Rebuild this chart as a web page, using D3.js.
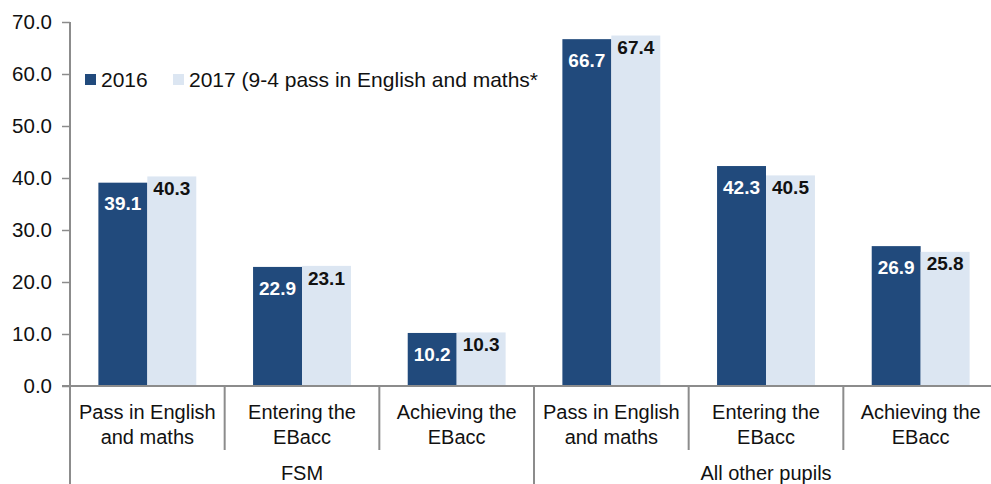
<!DOCTYPE html>
<html><head><meta charset="utf-8">
<script src="https://cdn.jsdelivr.net/npm/d3@7"></script>
<style>
html,body{margin:0;padding:0;background:#fff;}
svg{display:block;font-family:"Liberation Sans",Arial,sans-serif;}
</style></head>
<body><svg id="c" width="991" height="484"></svg>
<script>
const groups = ["FSM", "All other pupils"];
const categories = [
  ["Pass in English", "and maths"],
  ["Entering the", "EBacc"],
  ["Achieving the", "EBacc"]
];
const seriesNames = ["2016", "2017 (9-4 pass in English and maths*"];
const values2016 = [39.1, 22.9, 10.2, 66.7, 42.3, 26.9];
const values2017 = [40.3, 23.1, 10.3, 67.4, 40.5, 25.8];
const yTicks = [0, 10, 20, 30, 40, 50, 60, 70];
const colors = ["#214a7c", "#dce6f2"];

const svg = d3.select("#c");
const axisColor = "#8c8c8c";
const x0 = 70, x1 = 998, yTop = 22, yBase = 386;

const slots = [];
groups.forEach((g, gi) => categories.forEach((c, ci) => slots.push(gi + "-" + ci)));
const x = d3.scaleBand().domain(slots).range([x0, x1]).paddingInner(0).paddingOuter(0);
const y = d3.scaleLinear().domain([0, 70]).range([yBase, yTop]);
const xs = d3.scaleBand().domain([0, 1]).range([0, x.bandwidth()]).paddingInner(0).paddingOuter(0.58);

// bars
const data = slots.map((s, i) => ({slot: s, vals: [values2016[i], values2017[i]]}));
const g = svg.append("g");
data.forEach(d => {
  d.vals.forEach((v, k) => {
    g.append("rect")
      .attr("x", x(d.slot) + xs(k))
      .attr("y", y(v))
      .attr("width", xs.bandwidth())
      .attr("height", y(0) - y(v))
      .attr("fill", colors[k]);
    g.append("text")
      .attr("x", x(d.slot) + xs(k) + xs.bandwidth() / 2)
      .attr("y", y(v) + (k === 0 ? 21 : 12))
      .attr("dy", "0.35em")
      .attr("text-anchor", "middle")
      .attr("font-size", 19)
      .attr("font-weight", "bold")
      .attr("fill", k === 0 ? "#fff" : "#111")
      .text(v.toFixed(1));
  });
});

// y axis
const yAxis = d3.axisLeft(y).tickValues(yTicks).tickFormat(d3.format(".1f")).tickSize(8).tickSizeOuter(0).tickPadding(10);
const ya = svg.append("g").attr("transform", `translate(${x0},0)`).call(yAxis);
ya.select(".domain").remove();
ya.selectAll(".tick line").attr("stroke", axisColor).attr("stroke-width", 1.5);
ya.selectAll(".tick text").attr("font-size", 20.5).attr("fill", "#111").attr("font-family", "Liberation Sans, Arial, sans-serif");
svg.append("line").attr("x1", x0).attr("x2", x0).attr("y1", yTop).attr("y2", 484)
  .attr("stroke", axisColor).attr("stroke-width", 2);

// x axis baseline
svg.append("line").attr("x1", x0 - 8).attr("x2", 991).attr("y1", y(0)).attr("y2", y(0))
  .attr("stroke", axisColor).attr("stroke-width", 2);

// category labels and dividers
slots.forEach((s, i) => {
  const ci = i % 3;
  const cx = x(s) + x.bandwidth() / 2;
  const t = svg.append("text").attr("text-anchor", "middle").attr("font-size", 20).attr("fill", "#111");
  categories[ci].forEach((line, li) => {
    t.append("tspan").attr("x", cx).attr("y", 412 + li * 25).attr("dy", "0.35em").text(line);
  });
  if (i > 0) {
    const major = ci === 0;
    svg.append("line").attr("x1", x(s)).attr("x2", x(s))
      .attr("y1", y(0)).attr("y2", major ? 484 : 450)
      .attr("stroke", axisColor).attr("stroke-width", 2);
  }
});
groups.forEach((gname, gi) => {
  const start = x(gi + "-0"), end = x(gi + "-2") + x.bandwidth();
  svg.append("text").attr("x", (start + end) / 2).attr("y", 473).attr("dy", "0.35em")
    .attr("text-anchor", "middle").attr("font-size", 20).attr("fill", "#111").text(gname);
});

// legend
const legend = [{x: 85, name: seriesNames[0], c: colors[0]}, {x: 173, name: seriesNames[1], c: colors[1]}];
legend.forEach(l => {
  svg.append("rect").attr("x", l.x).attr("y", 74).attr("width", 11).attr("height", 11).attr("fill", l.c);
  svg.append("text").attr("x", l.x + 16).attr("y", 80).attr("dy", "0.35em")
    .attr("font-size", 21).attr("fill", "#111").text(l.name);
});
</script></body></html>
